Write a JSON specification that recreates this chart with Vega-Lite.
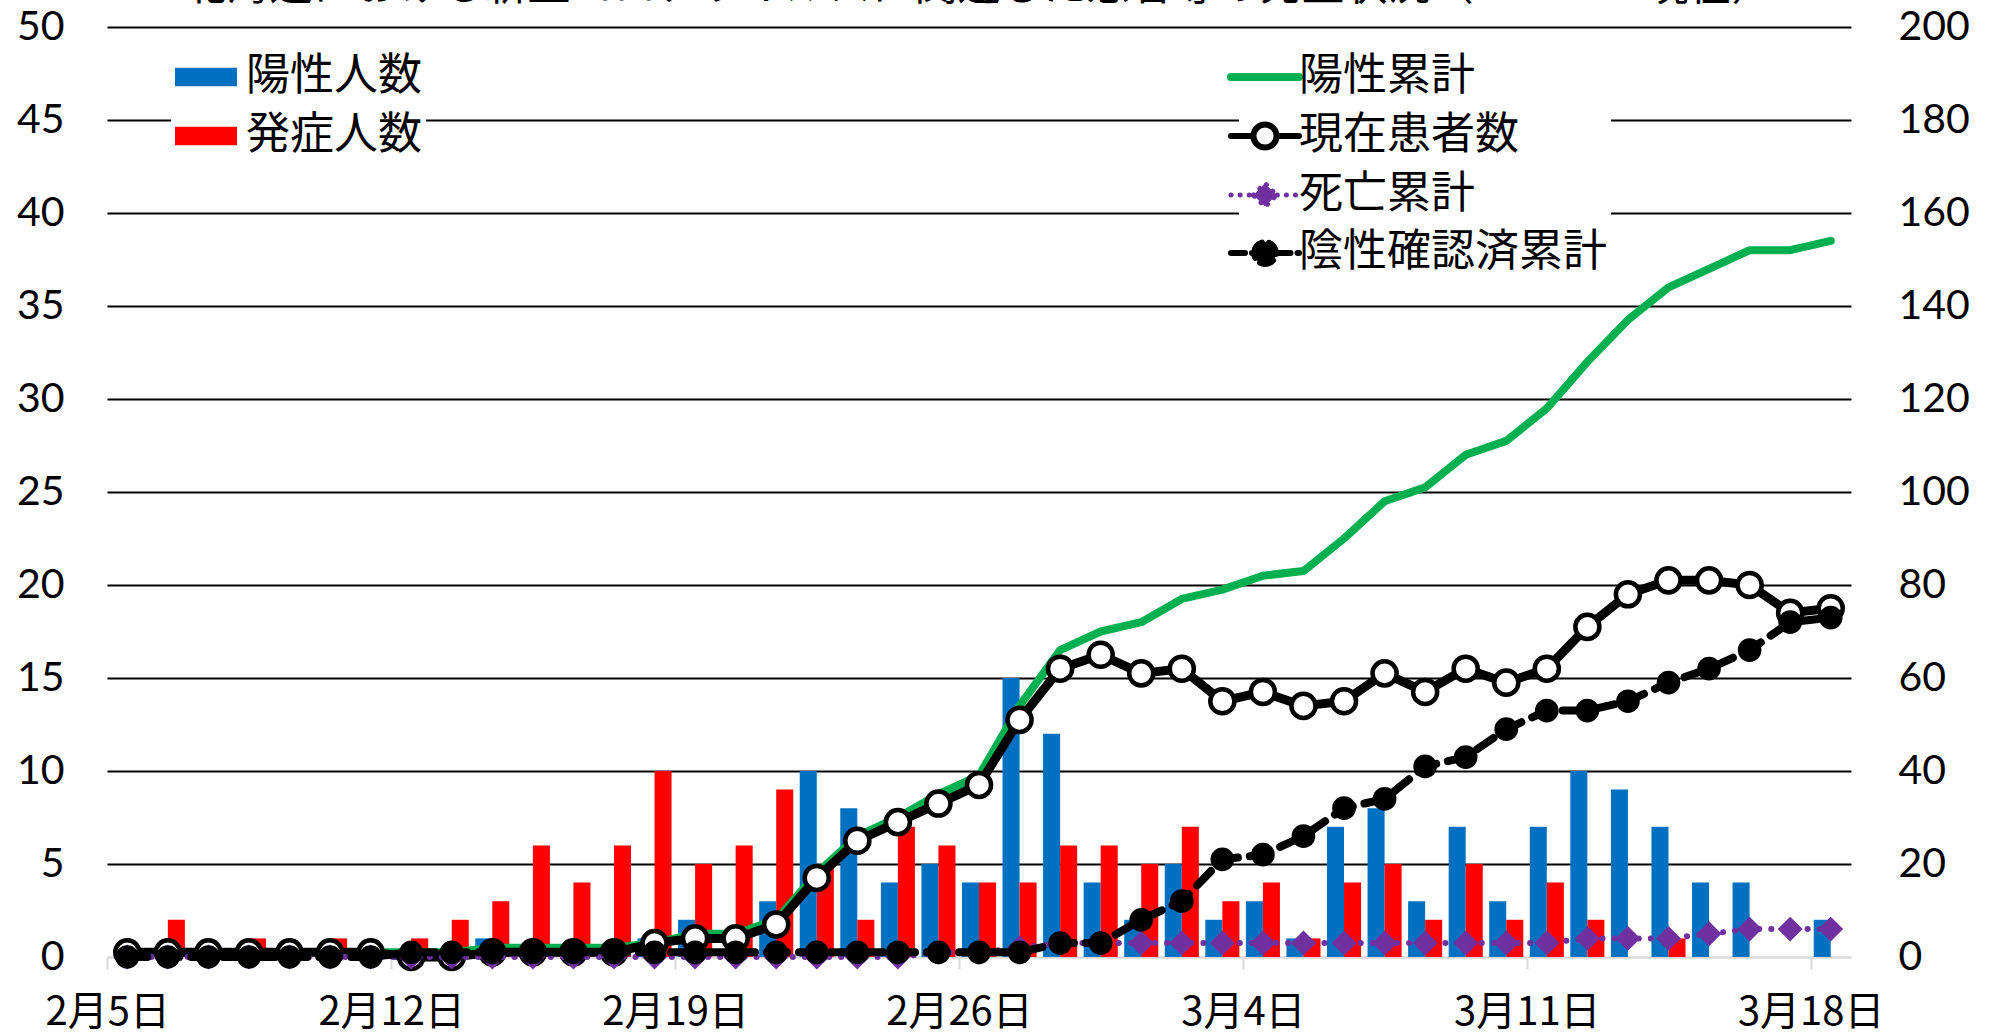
{
  "$schema": "https://vega.github.io/schema/vega-lite/v6.json",
  "autosize": {"type": "none"},
  "width": 1744,
  "height": 930,
  "padding": {"left": 107, "top": 27, "right": 146, "bottom": 78},
  "background": "white",
  "title": {
    "text": "北海道における新型コロナウイルスに関連した患者等の発生状況（　　　　現在）",
    "font": "Noto Sans CJK JP",
    "fontSize": 43,
    "fontWeight": "normal",
    "color": "black",
    "anchor": "middle",
    "offset": 6,
    "dy": 9
  },
  "data": {
    "values": [
      {"date": "2月5日", "陽性人数": 0, "発症人数": 0, "陽性累計": 1, "現在患者数": 1, "死亡累計": 0, "陰性確認済累計": 0},
      {"date": "2月6日", "陽性人数": 0, "発症人数": 2, "陽性累計": 1, "現在患者数": 1, "死亡累計": 0, "陰性確認済累計": 0},
      {"date": "2月7日", "陽性人数": 0, "発症人数": 0, "陽性累計": 1, "現在患者数": 1, "死亡累計": 0, "陰性確認済累計": 0},
      {"date": "2月8日", "陽性人数": 0, "発症人数": 1, "陽性累計": 1, "現在患者数": 1, "死亡累計": 0, "陰性確認済累計": 0},
      {"date": "2月9日", "陽性人数": 0, "発症人数": 0, "陽性累計": 1, "現在患者数": 1, "死亡累計": 0, "陰性確認済累計": 0},
      {"date": "2月10日", "陽性人数": 0, "発症人数": 1, "陽性累計": 1, "現在患者数": 1, "死亡累計": 0, "陰性確認済累計": 0},
      {"date": "2月11日", "陽性人数": 0, "発症人数": 0, "陽性累計": 1, "現在患者数": 1, "死亡累計": 0, "陰性確認済累計": 0},
      {"date": "2月12日", "陽性人数": 0, "発症人数": 1, "陽性累計": 1, "現在患者数": 0, "死亡累計": 0, "陰性確認済累計": 1},
      {"date": "2月13日", "陽性人数": 0, "発症人数": 2, "陽性累計": 1, "現在患者数": 0, "死亡累計": 0, "陰性確認済累計": 1},
      {"date": "2月14日", "陽性人数": 1, "発症人数": 3, "陽性累計": 2, "現在患者数": 1, "死亡累計": 0, "陰性確認済累計": 1},
      {"date": "2月15日", "陽性人数": 0, "発症人数": 6, "陽性累計": 2, "現在患者数": 1, "死亡累計": 0, "陰性確認済累計": 1},
      {"date": "2月16日", "陽性人数": 0, "発症人数": 4, "陽性累計": 2, "現在患者数": 1, "死亡累計": 0, "陰性確認済累計": 1},
      {"date": "2月17日", "陽性人数": 0, "発症人数": 6, "陽性累計": 2, "現在患者数": 1, "死亡累計": 0, "陰性確認済累計": 1},
      {"date": "2月18日", "陽性人数": 1, "発症人数": 10, "陽性累計": 3, "現在患者数": 3, "死亡累計": 0, "陰性確認済累計": 1},
      {"date": "2月19日", "陽性人数": 2, "発症人数": 5, "陽性累計": 5, "現在患者数": 4, "死亡累計": 0, "陰性確認済累計": 1},
      {"date": "2月20日", "陽性人数": 0, "発症人数": 6, "陽性累計": 5, "現在患者数": 4, "死亡累計": 0, "陰性確認済累計": 1},
      {"date": "2月21日", "陽性人数": 3, "発症人数": 9, "陽性累計": 8, "現在患者数": 7, "死亡累計": 0, "陰性確認済累計": 1},
      {"date": "2月22日", "陽性人数": 10, "発症人数": 5, "陽性累計": 18, "現在患者数": 17, "死亡累計": 0, "陰性確認済累計": 1},
      {"date": "2月23日", "陽性人数": 8, "発症人数": 2, "陽性累計": 26, "現在患者数": 25, "死亡累計": 0, "陰性確認済累計": 1},
      {"date": "2月24日", "陽性人数": 4, "発症人数": 7, "陽性累計": 30, "現在患者数": 29, "死亡累計": 0, "陰性確認済累計": 1},
      {"date": "2月25日", "陽性人数": 5, "発症人数": 6, "陽性累計": 35, "現在患者数": 33, "死亡累計": 1, "陰性確認済累計": 1},
      {"date": "2月26日", "陽性人数": 4, "発症人数": 4, "陽性累計": 39, "現在患者数": 37, "死亡累計": 1, "陰性確認済累計": 1},
      {"date": "2月27日", "陽性人数": 15, "発症人数": 4, "陽性累計": 54, "現在患者数": 51, "死亡累計": 2, "陰性確認済累計": 1},
      {"date": "2月28日", "陽性人数": 12, "発症人数": 6, "陽性累計": 66, "現在患者数": 62, "死亡累計": 3, "陰性確認済累計": 3},
      {"date": "2月29日", "陽性人数": 4, "発症人数": 6, "陽性累計": 70, "現在患者数": 65, "死亡累計": 3, "陰性確認済累計": 3},
      {"date": "3月1日", "陽性人数": 2, "発症人数": 5, "陽性累計": 72, "現在患者数": 61, "死亡累計": 3, "陰性確認済累計": 8},
      {"date": "3月2日", "陽性人数": 5, "発症人数": 7, "陽性累計": 77, "現在患者数": 62, "死亡累計": 3, "陰性確認済累計": 12},
      {"date": "3月3日", "陽性人数": 2, "発症人数": 3, "陽性累計": 79, "現在患者数": 55, "死亡累計": 3, "陰性確認済累計": 21},
      {"date": "3月4日", "陽性人数": 3, "発症人数": 4, "陽性累計": 82, "現在患者数": 57, "死亡累計": 3, "陰性確認済累計": 22},
      {"date": "3月5日", "陽性人数": 1, "発症人数": 1, "陽性累計": 83, "現在患者数": 54, "死亡累計": 3, "陰性確認済累計": 26},
      {"date": "3月6日", "陽性人数": 7, "発症人数": 4, "陽性累計": 90, "現在患者数": 55, "死亡累計": 3, "陰性確認済累計": 32},
      {"date": "3月7日", "陽性人数": 8, "発症人数": 5, "陽性累計": 98, "現在患者数": 61, "死亡累計": 3, "陰性確認済累計": 34},
      {"date": "3月8日", "陽性人数": 3, "発症人数": 2, "陽性累計": 101, "現在患者数": 57, "死亡累計": 3, "陰性確認済累計": 41},
      {"date": "3月9日", "陽性人数": 7, "発症人数": 5, "陽性累計": 108, "現在患者数": 62, "死亡累計": 3, "陰性確認済累計": 43},
      {"date": "3月10日", "陽性人数": 3, "発症人数": 2, "陽性累計": 111, "現在患者数": 59, "死亡累計": 3, "陰性確認済累計": 49},
      {"date": "3月11日", "陽性人数": 7, "発症人数": 4, "陽性累計": 118, "現在患者数": 62, "死亡累計": 3, "陰性確認済累計": 53},
      {"date": "3月12日", "陽性人数": 10, "発症人数": 2, "陽性累計": 128, "現在患者数": 71, "死亡累計": 4, "陰性確認済累計": 53},
      {"date": "3月13日", "陽性人数": 9, "発症人数": 0, "陽性累計": 137, "現在患者数": 78, "死亡累計": 4, "陰性確認済累計": 55},
      {"date": "3月14日", "陽性人数": 7, "発症人数": 1, "陽性累計": 144, "現在患者数": 81, "死亡累計": 4, "陰性確認済累計": 59},
      {"date": "3月15日", "陽性人数": 4, "発症人数": 0, "陽性累計": 148, "現在患者数": 81, "死亡累計": 5, "陰性確認済累計": 62},
      {"date": "3月16日", "陽性人数": 4, "発症人数": 0, "陽性累計": 152, "現在患者数": 80, "死亡累計": 6, "陰性確認済累計": 66},
      {"date": "3月17日", "陽性人数": 0, "発症人数": 0, "陽性累計": 152, "現在患者数": 74, "死亡累計": 6, "陰性確認済累計": 72},
      {"date": "3月18日", "陽性人数": 2, "発症人数": 0, "陽性累計": 154, "現在患者数": 75, "死亡累計": 6, "陰性確認済累計": 73}
    ]
  },
  "layer": [
    {
      "transform": [{"fold": ["陽性人数", "発症人数"], "as": ["key", "value"]}],
      "mark": {"type": "bar", "strokeWidth": 0},
      "encoding": {
        "x": {
          "field": "date",
          "type": "ordinal",
          "scale": {
            "domain": ["2月5日","2月6日","2月7日","2月8日","2月9日","2月10日","2月11日","2月12日","2月13日","2月14日","2月15日","2月16日","2月17日","2月18日","2月19日","2月20日","2月21日","2月22日","2月23日","2月24日","2月25日","2月26日","2月27日","2月28日","2月29日","3月1日","3月2日","3月3日","3月4日","3月5日","3月6日","3月7日","3月8日","3月9日","3月10日","3月11日","3月12日","3月13日","3月14日","3月15日","3月16日","3月17日","3月18日"],
            "paddingInner": 0.16,
            "paddingOuter": 0.08
          },
          "axis": {
            "title": null,
            "values": ["2月5日","2月12日","2月19日","2月26日","3月4日","3月11日","3月18日"],
            "labelAngle": 0,
            "labelFont": "Noto Sans CJK JP",
            "labelFontSize": 40,
            "labelColor": "black",
            "labelPadding": 23,
            "labelLimit": 300,
            "domain": true,
            "domainColor": "#D9D9D9",
            "domainWidth": 2,
            "ticks": true,
            "tickColor": "#D9D9D9",
            "tickWidth": 2,
            "tickSize": 12,
            "tickOffset": -20,
            "grid": false
          }
        },
        "xOffset": {"field": "key", "type": "nominal", "scale": {"domain": ["陽性人数", "発症人数"], "paddingInner": 0, "paddingOuter": 0}},
        "y": {
          "field": "value",
          "type": "quantitative",
          "scale": {"domain": [0, 50], "nice": false},
          "axis": {
            "title": null,
            "values": [0, 5, 10, 15, 20, 25, 30, 35, 40, 45, 50],
            "orient": "left",
            "labelFont": "Lato",
            "labelFontSize": 41,
            "labelColor": "black",
            "labelPadding": 43,
            "ticks": false,
            "domain": false,
            "grid": true,
            "gridColor": {"condition": {"test": "datum.value === 0", "value": "#D9D9D9"}, "value": "black"},
            "gridWidth": 2
          }
        },
        "color": {
          "field": "key",
          "type": "nominal",
          "scale": {"domain": ["陽性人数", "発症人数"], "range": ["#0070C0", "#FF0000"]},
          "legend": {
            "title": null,
            "orient": "none",
            "legendX": 64,
            "legendY": 15,
            "fillColor": "white",
            "padding": 4,
            "symbolType": "M-1,-0.3L1,-0.3L1,0.3L-1,0.3Z",
            "symbolSize": 3844,
            "symbolStrokeWidth": 0,
            "rowPadding": 6,
            "labelOffset": 9,
            "labelLimit": 400,
            "labelFont": "Noto Sans CJK JP",
            "labelFontSize": 44,
            "labelColor": "black"
          }
        }
      }
    },
    {
      "layer": [
        {
          "mark": {"type": "line", "strokeWidth": 8, "strokeJoin": "round", "strokeCap": "round"},
          "encoding": {
            "x": {"field": "date", "type": "ordinal"},
            "y": {"field": "陽性累計", "type": "quantitative", "scale": {"domain": [0, 200], "nice": false},
              "axis": {"title": null, "orient": "right", "values": [0, 20, 40, 60, 80, 100, 120, 140, 160, 180, 200], "labelFont": "Lato", "labelFontSize": 41, "labelColor": "black", "labelPadding": 47, "ticks": false, "domain": false, "grid": false}},
            "color": {
              "datum": "陽性累計",
              "scale": {"domain": ["陽性累計", "現在患者数", "死亡累計", "陰性確認済累計"], "range": ["#00B050", "black", "#7030A0", "black"]},
              "legend": {
                "title": null,
                "orient": "none",
                "legendX": 1132,
                "legendY": 24,
                "fillColor": "white",
                "padding": 4,
                "symbolSize": 4624,
                "rowPadding": 13,
                "labelOffset": 12,
                "labelLimit": 500,
                "labelFont": "Noto Sans CJK JP",
                "labelFontSize": 44,
                "labelColor": "black",
                "encode": {
                  "symbols": {
                    "update": {
                      "shape": {"signal": "datum.value === '陽性累計' ? 'M-1,0L1,0' : datum.value === '現在患者数' ? 'M-1,0L-0.34,0M0.34,0L1,0M-0.34,0A0.34,0.34 0 1,1 0.34,0A0.34,0.34 0 1,1 -0.34,0Z' : datum.value === '死亡累計' ? 'M-1,0L-0.36,0M0.36,0L1,0M-0.34,0L0,-0.34L0.34,0L0,0.34Z' : 'M-1,0L-0.34,0M0.34,0L1,0M-0.32,0A0.32,0.32 0 1,1 0.32,0A0.32,0.32 0 1,1 -0.32,0Z'"},
                      "size": {"value": 4624},
                      "fill": {"signal": "datum.value === '現在患者数' ? 'white' : datum.value === '死亡累計' ? '#7030A0' : datum.value === '陰性確認済累計' ? 'black' : 'transparent'"},
                      "stroke": {"signal": "datum.value === '陽性累計' ? '#00B050' : datum.value === '死亡累計' ? '#7030A0' : 'black'"},
                      "strokeWidth": {"signal": "datum.value === '陽性累計' ? 8 : datum.value === '死亡累計' ? 5 : 6"},
                      "strokeDash": {"signal": "datum.value === '死亡累計' ? [0.1, 9] : datum.value === '陰性確認済累計' ? [14, 7] : []"},
                      "strokeCap": {"value": "round"},
                      "opacity": {"value": 1}
                    }
                  }
                }
              }
            }
          }
        },
        {
          "mark": {"type": "line", "strokeWidth": 9, "strokeJoin": "round"},
          "encoding": {
            "x": {"field": "date", "type": "ordinal"},
            "y": {"field": "現在患者数", "type": "quantitative", "scale": {"domain": [0, 200], "nice": false},
              "axis": {"title": null, "orient": "right", "values": [0, 20, 40, 60, 80, 100, 120, 140, 160, 180, 200], "labelFont": "Lato", "labelFontSize": 41, "labelColor": "black", "labelPadding": 47, "ticks": false, "domain": false, "grid": false}},
            "color": {"datum": "現在患者数"}
          }
        },
        {
          "mark": {"type": "point", "shape": "circle", "filled": true, "fill": "white", "stroke": "black", "strokeWidth": 4.5, "size": 580, "opacity": 1},
          "encoding": {
            "x": {"field": "date", "type": "ordinal"},
            "y": {"field": "現在患者数", "type": "quantitative", "scale": {"domain": [0, 200], "nice": false},
              "axis": {"title": null, "orient": "right", "values": [0, 20, 40, 60, 80, 100, 120, 140, 160, 180, 200], "labelFont": "Lato", "labelFontSize": 41, "labelColor": "black", "labelPadding": 47, "ticks": false, "domain": false, "grid": false}}
          }
        },
        {
          "mark": {"type": "line", "strokeWidth": 6, "strokeCap": "round", "strokeDash": [0.1, 12]},
          "encoding": {
            "x": {"field": "date", "type": "ordinal"},
            "y": {"field": "死亡累計", "type": "quantitative", "scale": {"domain": [0, 200], "nice": false},
              "axis": {"title": null, "orient": "right", "values": [0, 20, 40, 60, 80, 100, 120, 140, 160, 180, 200], "labelFont": "Lato", "labelFontSize": 41, "labelColor": "black", "labelPadding": 47, "ticks": false, "domain": false, "grid": false}},
            "color": {"datum": "死亡累計"}
          }
        },
        {
          "mark": {"type": "point", "shape": "diamond", "filled": true, "color": "#7030A0", "size": 620, "opacity": 1},
          "encoding": {
            "x": {"field": "date", "type": "ordinal"},
            "y": {"field": "死亡累計", "type": "quantitative", "scale": {"domain": [0, 200], "nice": false},
              "axis": {"title": null, "orient": "right", "values": [0, 20, 40, 60, 80, 100, 120, 140, 160, 180, 200], "labelFont": "Lato", "labelFontSize": 41, "labelColor": "black", "labelPadding": 47, "ticks": false, "domain": false, "grid": false}}
          }
        },
        {
          "mark": {"type": "line", "strokeWidth": 8, "strokeDash": [20, 12], "strokeCap": "round"},
          "encoding": {
            "x": {"field": "date", "type": "ordinal"},
            "y": {"field": "陰性確認済累計", "type": "quantitative", "scale": {"domain": [0, 200], "nice": false},
              "axis": {"title": null, "orient": "right", "values": [0, 20, 40, 60, 80, 100, 120, 140, 160, 180, 200], "labelFont": "Lato", "labelFontSize": 41, "labelColor": "black", "labelPadding": 47, "ticks": false, "domain": false, "grid": false}},
            "color": {"datum": "陰性確認済累計"}
          }
        },
        {
          "mark": {"type": "point", "shape": "circle", "filled": true, "color": "black", "size": 560, "opacity": 1},
          "encoding": {
            "x": {"field": "date", "type": "ordinal"},
            "y": {"field": "陰性確認済累計", "type": "quantitative", "scale": {"domain": [0, 200], "nice": false},
              "axis": {"title": null, "orient": "right", "values": [0, 20, 40, 60, 80, 100, 120, 140, 160, 180, 200], "labelFont": "Lato", "labelFontSize": 41, "labelColor": "black", "labelPadding": 47, "ticks": false, "domain": false, "grid": false}}
          }
        }
      ]
    }
  ],
  "resolve": {"scale": {"y": "independent", "color": "independent"}},
  "config": {"view": {"stroke": null}}
}
